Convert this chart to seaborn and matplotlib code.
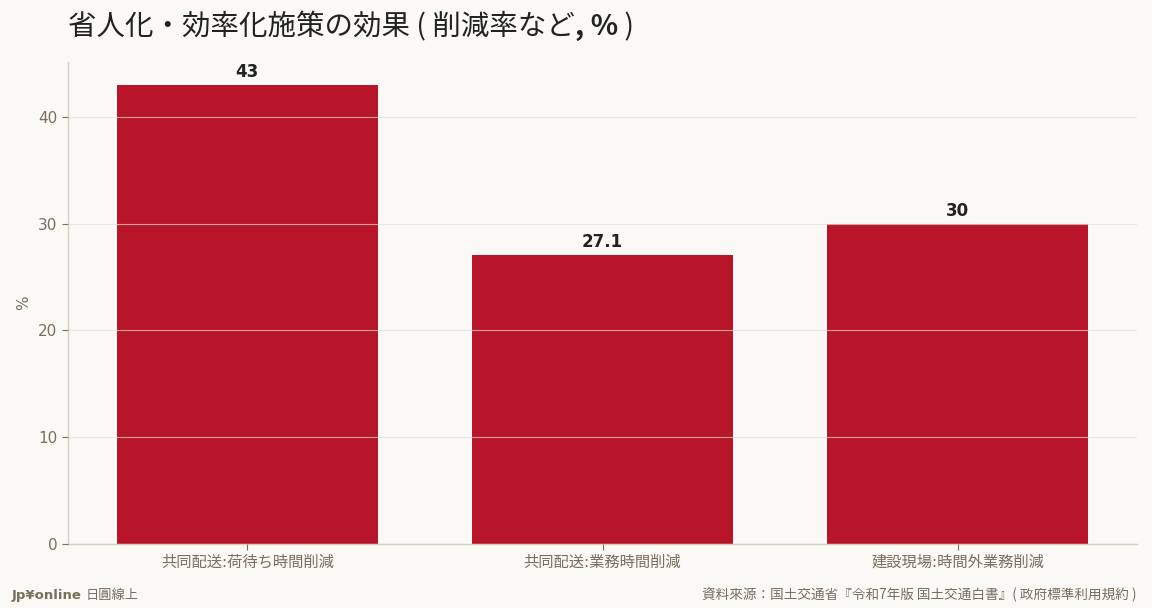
import pandas as pd
import numpy as np
import matplotlib
matplotlib.use("Agg")
import matplotlib.pyplot as plt
import seaborn as sns

# data
categories = ["共同配送:荷待ち時間削減", "共同配送:業務時間削減", "建設現場:時間外業務削減"]
values = [43, 27.1, 30]
value_labels = ["43", "27.1", "30"]

title_parts = ["省人化・効率化施策の効果 ( 削減率など", ", %", " )"]
title_weights = ["normal", "bold", "normal"]
source = "資料來源：国土交通省『令和7年版 国土交通白書』( 政府標準利用規約 )"

bg = "#faf9f5"
bar_color = "#b8152b"
tick_color = "#7a6e5d"
spine_color = "#d8d0bf"

sns.set_theme(style="white")
plt.rcParams["font.family"] = ["DejaVu Sans", "Noto Sans CJK JP"]
cjk = ["Noto Sans CJK JP", "DejaVu Sans"]

df = pd.DataFrame({"cat": categories, "val": values})

fig = plt.figure(figsize=(11.52, 6.08), dpi=100, facecolor=bg)
ax = fig.add_axes([68 / 1152, 1 - 544 / 608, (1137 - 68) / 1152, (544 - 62) / 608])
ax.set_facecolor(bg)

sns.barplot(data=df, x="cat", y="val", color=bar_color, width=0.735,
            saturation=1, linewidth=0, ax=ax, zorder=1)

ax.set_xlim(-0.505, 2.505)
ax.set_ylim(0, max(values) * 1.05)
ax.set_yticks([0, 10, 20, 30, 40])

ax.yaxis.grid(True, color="#e4dfd2", linewidth=0.8, alpha=0.7, zorder=2)
ax.set_axisbelow(False)

for i, (v, lab) in enumerate(zip(values, value_labels)):
    ax.annotate(lab, (i, v), xytext=(0, 3), textcoords="offset points",
                ha="center", va="bottom", fontsize=12, fontweight="bold",
                color="#222222")

for s in ["top", "right"]:
    ax.spines[s].set_visible(False)
for s in ["left", "bottom"]:
    ax.spines[s].set_color(spine_color)
    ax.spines[s].set_linewidth(1)

ax.tick_params(axis="both", colors=tick_color, labelsize=11, length=4,
               left=True, bottom=True, width=0.8)
for t in ax.get_xticklabels():
    t.set_color(tick_color)
ax.set_xlabel("")
ax.set_ylabel("%", color=tick_color, fontsize=11, labelpad=5)

# title drawn in pieces so ", %" can be bold
fig.canvas.draw()
x0 = 68
for part, w in zip(title_parts, title_weights):
    t = fig.text(x0 / 1152, 1 - 27 / 608, part, fontsize=20.5, color="#222222",
                 ha="left", va="center", fontweight=w, family=cjk)
    fig.canvas.draw()
    x0 = t.get_window_extent().x1

fig.text(12 / 1152, 1 - 595 / 608, "Jp¥online", fontsize=9.5, fontweight="bold",
         color=tick_color, ha="left", va="center")
fig.text(86 / 1152, 1 - 595 / 608, "日圓線上", fontsize=9.5, color=tick_color,
         ha="left", va="center", family=cjk)
fig.text(1137 / 1152, 1 - 595 / 608, source, fontsize=9.8, color=tick_color,
         ha="right", va="center", family=cjk)

fig.savefig("out.png", dpi=100, facecolor=bg)
